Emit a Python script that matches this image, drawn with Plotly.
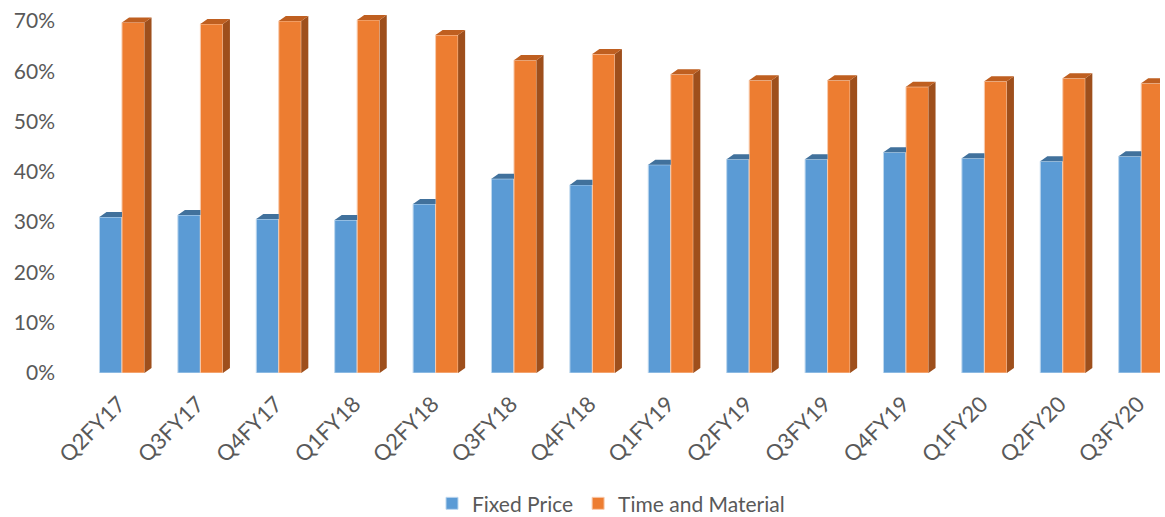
import plotly.graph_objects as go

categories = ["Q2FY17", "Q3FY17", "Q4FY17", "Q1FY18", "Q2FY18", "Q3FY18", "Q4FY18",
              "Q1FY19", "Q2FY19", "Q3FY19", "Q4FY19", "Q1FY20", "Q2FY20", "Q3FY20"]
fixed_price = [0.310, 0.314, 0.306, 0.304, 0.336, 0.386, 0.374,
               0.414, 0.425, 0.425, 0.439, 0.427, 0.421, 0.431]
time_material = [0.697, 0.694, 0.700, 0.702, 0.672, 0.622, 0.634,
                 0.594, 0.582, 0.582, 0.569, 0.580, 0.586, 0.576]

BLUE = "#5B9BD5"
BLUE_TOP = "#41719C"
ORANGE = "#ED7D31"
ORANGE_SIDE = "#9E4F1C"
ORANGE_TOP = "#BF5F20"

W = 0.287    # bar width in category units
DX = 0.09    # depth offset (x, category units)
DY = 0.01    # depth offset (y, value units)

x = list(range(len(categories)))

fig = go.Figure()
fig.add_trace(go.Bar(x=x, y=fixed_price, name="Fixed Price", width=W, offset=-W,
                     marker=dict(color=BLUE, line=dict(color="#BDD7EE", width=1))))
fig.add_trace(go.Bar(x=x, y=time_material, name="Time and Material", width=W, offset=0,
                     marker=dict(color=ORANGE, line=dict(color="#F8CBAD", width=1))))

# depth faces derived from the data
bx, by = [], []
for i, v in zip(x, fixed_price):
    l, r = i - W, i
    bx += [l, l + DX, r, r, l, None]
    by += [v, v + DY, v + DY, v, v, None]
sx, sy, tx, ty = [], [], [], []
for i, v in zip(x, time_material):
    l, r = i, i + W
    sx += [r, r + DX, r + DX, r, r, None]
    sy += [0, DY, v + DY, v, 0, None]
    tx += [l, l + DX, r + DX, r, l, None]
    ty += [v, v + DY, v + DY, v, v, None]

for xs, ys, c in [(bx, by, BLUE_TOP), (sx, sy, ORANGE_SIDE), (tx, ty, ORANGE_TOP)]:
    fig.add_trace(go.Scatter(x=xs, y=ys, mode="lines", fill="toself", fillcolor=c,
                             line=dict(width=0, color=c), showlegend=False,
                             hoverinfo="skip"))

fig.update_layout(
    width=1165, height=517,
    margin=dict(l=62, r=5, t=10, b=144, autoexpand=False),
    barmode="overlay",
    plot_bgcolor="white", paper_bgcolor="white",
    font=dict(family="Lato", size=21, color="#595959"),
    legend=dict(orientation="h", x=0.5, xanchor="center", y=-0.36, yanchor="middle",
                font=dict(size=21, color="#595959"), traceorder="normal"),
    xaxis=dict(range=[-0.765, 13.24], tickmode="array", tickvals=x, ticktext=categories,
               tickangle=-45, showgrid=False, showline=False, zeroline=False,
               tickfont=dict(size=22),
               ticks="", ticklabelshift=-3, ticklabelstandoff=13, automargin=False),
    yaxis=dict(range=[0, 0.7217], tickformat=".0%", dtick=0.1, tick0=0,
               showgrid=False, showline=False, zeroline=False, ticks="",
               ticklabelstandoff=6, automargin=False),
)

fig.write_html("out.html")
